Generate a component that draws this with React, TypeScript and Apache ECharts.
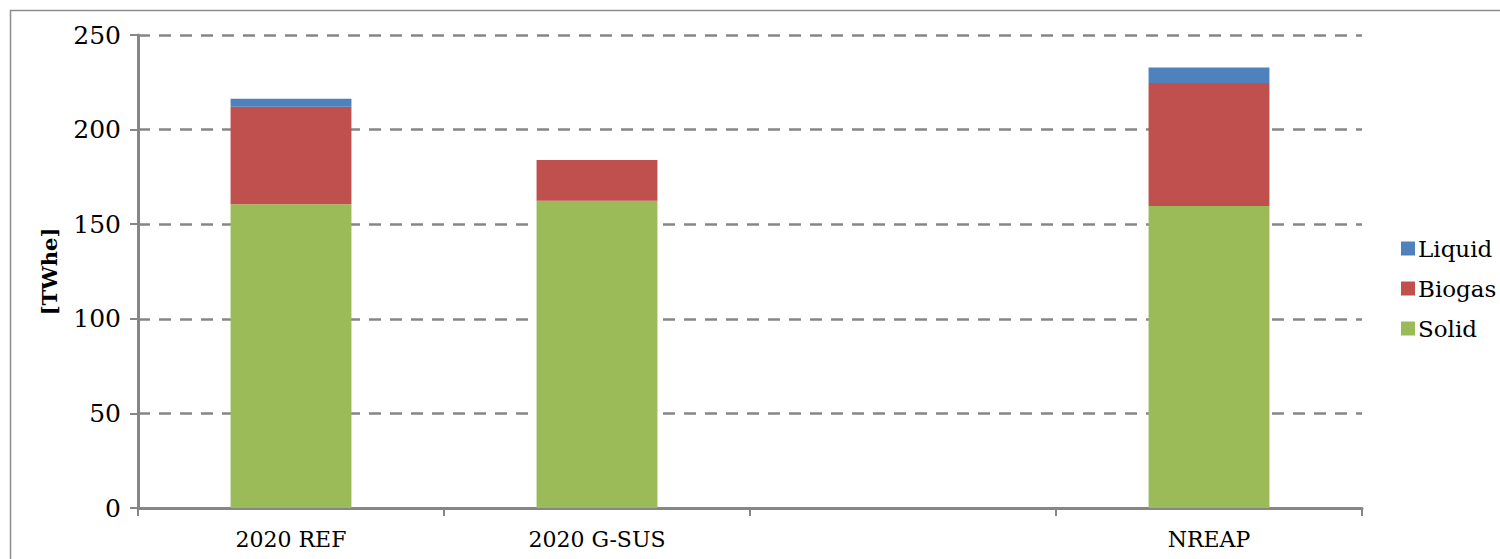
import React, { useEffect, useRef } from "react";
import * as echarts from "echarts";

const categories = ["2020 REF", "2020 G-SUS", "", "NREAP"];
const solid = [160.6, 162.4, null, 159.6];
const biogas = [51.5, 21.5, null, 65.0];
const liquid = [4.2, 0, null, 8.2];
const yTicks = { min: 0, max: 250, interval: 50 };

const FONT = "DejaVu Serif";
const AXIS = "#868686";

export default function App() {
  const ref = useRef<HTMLDivElement>(null);
  useEffect(() => {
    document.body.style.margin = "0";
    const chart = echarts.init(ref.current!, null, { renderer: "svg" });
    chart.setOption({
      animation: false,
      backgroundColor: "#ffffff",
      textStyle: { fontFamily: FONT, color: "#000" },
      graphic: [
        {
          type: "rect",
          shape: { x: 10.5, y: 10.5, width: 1500, height: 560 },
          style: { fill: "none", stroke: "#8c8c8c", lineWidth: 1.5 },
          silent: true,
          z: -10,
        },
      ],
      grid: { left: 138, right: 138, top: 35, bottom: 51 },
      legend: {
        orient: "vertical",
        left: 1396,
        top: 232,
        itemWidth: 14,
        itemHeight: 14,
        itemGap: 17,
        icon: "rect",
        data: ["Liquid", "Biogas", "Solid"],
        textStyle: { fontFamily: FONT, fontSize: 23, color: "#000", padding: [0, 0, 0, -2] },
      },
      xAxis: {
        type: "category",
        data: categories,
        axisLine: { lineStyle: { color: AXIS, width: 3 } },
        axisTick: { show: true, length: 8, lineStyle: { color: AXIS, width: 2 } },
        axisLabel: { fontFamily: FONT, fontSize: 22, color: "#000", margin: 20 },
        splitLine: { show: false },
      },
      yAxis: {
        type: "value",
        min: yTicks.min,
        max: yTicks.max,
        interval: yTicks.interval,
        name: "[TWhe]",
        nameLocation: "middle",
        nameGap: 78,
        nameTextStyle: { fontFamily: FONT, fontSize: 21, fontWeight: "bold", color: "#000" },
        axisLine: { show: true, lineStyle: { color: AXIS, width: 3 } },
        axisTick: { show: true, length: 8, lineStyle: { color: AXIS, width: 2 } },
        axisLabel: { fontFamily: FONT, fontSize: 25, color: "#000", margin: 17 },
        splitLine: {
          show: true,
          lineStyle: { color: AXIS, width: 2.5, type: [12, 9] },
        },
      },
      series: [
        {
          name: "Solid",
          type: "bar",
          stack: "total",
          barWidth: "39.5%",
          data: solid,
          itemStyle: { color: "#9BBB59" },
        },
        {
          name: "Biogas",
          type: "bar",
          stack: "total",
          data: biogas,
          itemStyle: { color: "#C0504D" },
        },
        {
          name: "Liquid",
          type: "bar",
          stack: "total",
          data: liquid,
          itemStyle: { color: "#4F81BD" },
        },
      ],
    });
    return () => chart.dispose();
  }, []);
  return <div ref={ref} style={{ width: 1500, height: 559 }} />;
}
